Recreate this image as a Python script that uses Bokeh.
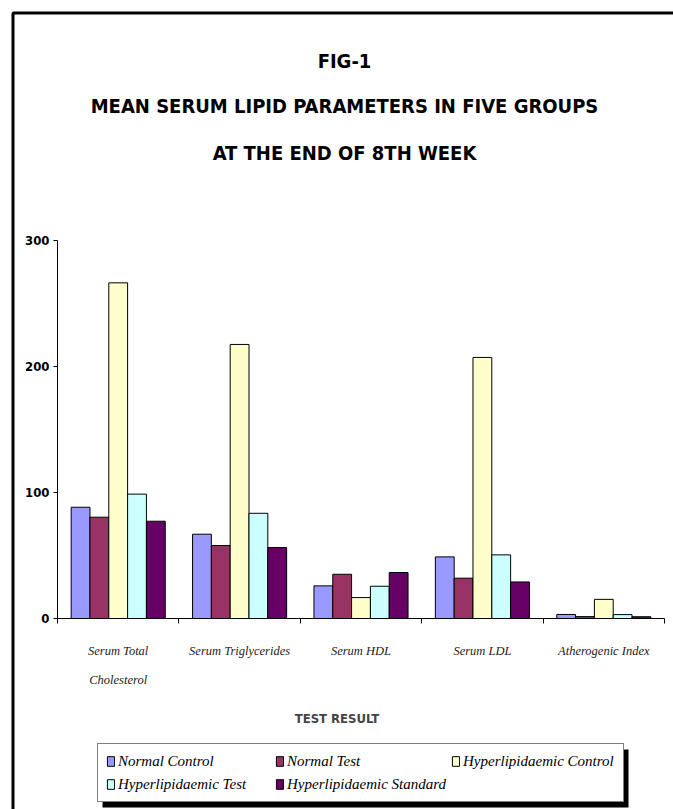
from bokeh.plotting import figure
from bokeh.models import (LinearAxis, FixedTicker, Label, Legend, LegendItem,
                          BoxAnnotation, ColumnDataSource, Range1d)
from bokeh.embed import file_html
from bokeh.resources import INLINE

# ---------------- data ----------------
categories = ["Serum Total\nCholesterol", "Serum Triglycerides", "Serum HDL",
              "Serum LDL", "Atherogenic Index"]
groups = ["Normal Control", "Normal Test", "Hyperlipidaemic Control",
          "Hyperlipidaemic Test", "Hyperlipidaemic Standard"]
normal_control = [88.3, 66.9, 25.9, 48.9, 3.2]
normal_test = [80.4, 57.9, 35.1, 32.0, 1.5]
hyper_control = [266.4, 217.5, 16.6, 207.2, 15.2]
hyper_test = [98.7, 83.5, 25.6, 50.5, 3.1]
hyper_standard = [77.2, 56.3, 36.5, 29.0, 1.4]
series = [normal_control, normal_test, hyper_control, hyper_test, hyper_standard]
colors = ["#9999FF", "#993366", "#FFFFCC", "#CCFFFF", "#660066"]
y_ticks = [0, 100, 200, 300]
title_lines = ["FIG-1", "MEAN SERUM LIPID PARAMETERS IN FIVE GROUPS",
               "AT THE END OF 8TH WEEK"]
x_title = "TEST RESULT"

# ---------------- layout ----------------
W, H = 673, 809
FL, FR, FT, FB = 57, 664, 240, 618  # plot area edges in px
NCAT = 5
YMAX = 300

NARROW = "'DejaVu Sans Condensed', 'Liberation Sans', sans-serif"
SERIF = "Liberation Serif"


def dx(px):
    return (px - FL) / (FR - FL) * NCAT


def dy(py):
    return (FB - py) / (FB - FT) * YMAX


p = figure(width=W, height=H,
           x_range=Range1d(dx(0), dx(W)), y_range=Range1d(dy(H), dy(0)),
           output_backend="svg", toolbar_location=None,
           x_axis_location=None, y_axis_location=None,
           min_border=0, min_border_left=0, min_border_right=0,
           min_border_top=0, min_border_bottom=0)
p.xgrid.visible = False
p.ygrid.visible = False
p.outline_line_color = None
p.background_fill_color = "white"
p.border_fill_color = "white"

# bars
bw = 0.155
renderers = []
for j, (vals, col) in enumerate(zip(series, colors)):
    xs = [i + 0.5 + (j - 2) * bw for i in range(len(vals))]
    src = ColumnDataSource(dict(x=xs, top=vals))
    r = p.vbar(x="x", top="top", width=bw, bottom=0, source=src,
               fill_color=col, line_color="black", line_width=1)
    renderers.append(r)

# y axis
ya = LinearAxis(ticker=FixedTicker(ticks=y_ticks), fixed_location=0,
                bounds=(0, YMAX))
ya.minor_tick_line_color = None
ya.major_tick_in = 0
ya.major_tick_out = 4
ya.axis_line_color = "black"
ya.major_tick_line_color = "black"
ya.major_label_text_font = NARROW
ya.major_label_text_font_style = "bold"
ya.major_label_text_font_size = "13px"
ya.major_label_text_color = "black"
ya.major_label_standoff = 4
p.add_layout(ya, "left")

# x axis with boundary ticks
xa = LinearAxis(ticker=FixedTicker(ticks=list(range(NCAT + 1))), fixed_location=0,
                bounds=(0, NCAT),
                major_label_overrides={i: "" for i in range(NCAT + 1)})
xa.major_tick_in = 0
xa.major_tick_out = 5
xa.minor_tick_line_color = None
xa.axis_line_color = "black"
xa.major_label_text_font_size = "1px"
p.add_layout(xa, "below")

# category labels axis
centers = [i + 0.5 for i in range(NCAT)]
xb = LinearAxis(ticker=FixedTicker(ticks=centers), fixed_location=0,
                major_label_overrides={c: t for c, t in zip(centers, categories)})
xb.axis_line_color = None
xb.major_tick_line_color = None
xb.minor_tick_line_color = None
xb.major_label_text_font = SERIF
xb.major_label_text_font_style = "italic"
xb.major_label_text_font_size = "12.5px"
xb.major_label_text_color = "#222222"
xb.major_label_text_line_height = 2.1
xb.major_label_standoff = 19
xb.axis_label = x_title
xb.axis_label_text_font = NARROW
xb.axis_label_text_font_style = "bold"
xb.axis_label_text_font_size = "13px"
xb.axis_label_standoff = 21
p.add_layout(xb, "below")

# titles
for txt, py in zip(title_lines, [60, 105, 152]):
    p.add_layout(Label(x=dx(344), y=dy(py), text=txt, text_align="center",
                       text_baseline="middle", text_font=NARROW,
                       text_font_style="bold", text_font_size="20px",
                       text_color="black"))

# border around the chart area
p.add_layout(BoxAnnotation(left=dx(12.5), right=dx(740), top=dy(12.5),
                           bottom=dy(900), fill_alpha=0, line_color="black",
                           line_alpha=1, line_width=3))

# legend drop shadow
p.add_layout(BoxAnnotation(left=dx(102), right=dx(628), top=dy(749),
                           bottom=dy(807), fill_color="black", fill_alpha=1,
                           line_alpha=0))

# legend (filled column by column: 2 rows x 3 columns)
order = [0, 3, 1, 4, 2]
leg = Legend(items=[LegendItem(label=groups[k], renderers=[renderers[k]]) for k in order],
             location=(97, 7), ncols=3, background_fill_color="white",
             background_fill_alpha=1, border_line_color="black",
             border_line_width=1.5, label_text_font=SERIF,
             label_text_font_style="italic", label_text_font_size="15px",
             label_text_color="black", glyph_width=9, glyph_height=12,
             label_standoff=3, spacing=5, padding=8, margin=0,
             label_height=18, label_width=152)
p.add_layout(leg, "center")

open("out.html", "w").write(file_html(p, INLINE))
